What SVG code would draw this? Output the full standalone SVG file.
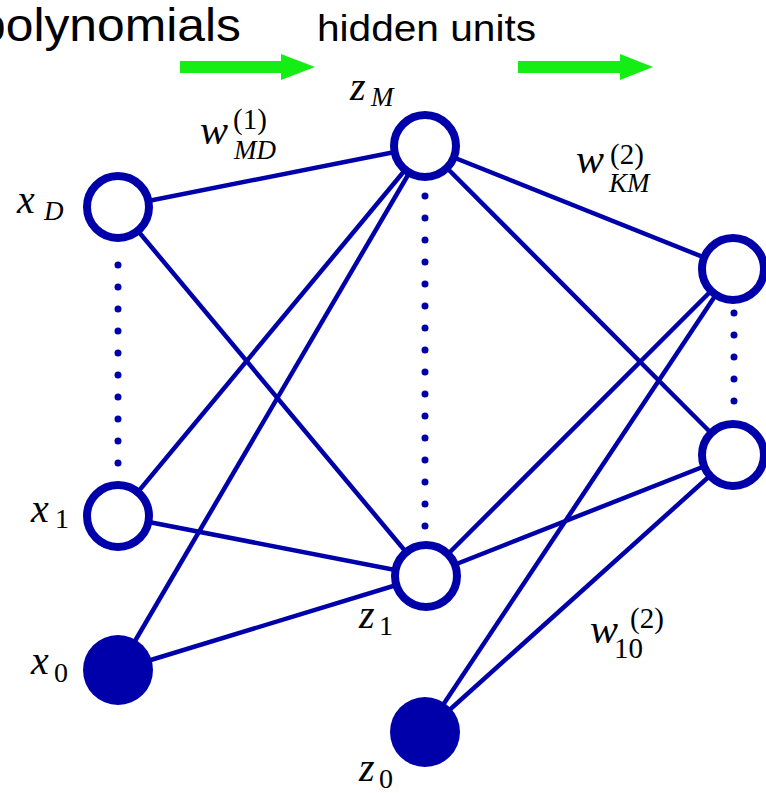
<svg xmlns="http://www.w3.org/2000/svg" width="766" height="793" viewBox="0 0 766 793">
<style>
.edge{stroke:#0000aa;stroke-width:4.5;fill:none}
.dots{stroke:#0000aa;stroke-width:7;stroke-linecap:round;stroke-dasharray:0 22;fill:none}
.open{fill:#fff;stroke:#0000aa;stroke-width:8}
.filled{fill:#0000aa;stroke:none}
.m{font-family:"Liberation Serif",serif;font-style:italic;fill:#000}
.r{font-family:"Liberation Serif",serif;fill:#000}
.t{font-family:"Liberation Sans",sans-serif;fill:#000}
.arrow{fill:#14ee14}
</style>
<rect width="766" height="793" fill="#fff"/>
<g id="titles">
<text class="t" x="-22" y="41" font-size="46" textLength="263" lengthAdjust="spacingAndGlyphs">polynomials</text>
<text class="t" x="317" y="41" font-size="36" textLength="219" lengthAdjust="spacingAndGlyphs">hidden units</text>
</g>
<g id="arrows">
<path class="arrow" d="M180 61 H281 V54 L315 67 L281 80 V73 H180 Z"/>
<path class="arrow" d="M518 61 H620 V54 L653 67 L620 80 V73 H518 Z"/>
</g>
<g id="connectors">
<line class="edge" x1="118" y1="207" x2="425" y2="146"/>
<line class="edge" x1="118" y1="207" x2="426" y2="576"/>
<line class="edge" x1="118" y1="516" x2="425" y2="146"/>
<line class="edge" x1="118" y1="516" x2="426" y2="576"/>
<line class="edge" x1="118" y1="670" x2="425" y2="146"/>
<line class="edge" x1="118" y1="670" x2="426" y2="576"/>
<line class="edge" x1="425" y1="146" x2="733" y2="269"/>
<line class="edge" x1="425" y1="146" x2="733" y2="455"/>
<line class="edge" x1="426" y1="576" x2="733" y2="269"/>
<line class="edge" x1="426" y1="576" x2="733" y2="455"/>
<line class="edge" x1="425" y1="732" x2="733" y2="269"/>
<line class="edge" x1="425" y1="732" x2="733" y2="455"/>
<line class="dots" x1="118" y1="265" x2="118" y2="466"/>
<line class="dots" x1="425" y1="196" x2="425" y2="529"/>
<line class="dots" x1="734" y1="313" x2="734" y2="403"/>
</g>
<g id="xD"><circle class="open" cx="118" cy="207" r="31"/>
<text class="m" x="17" y="213" font-size="40">x</text><text class="m" x="44" y="220" font-size="27">D</text></g>
<g id="x1"><circle class="open" cx="118" cy="516" r="31"/>
<text class="m" x="31" y="522" font-size="40">x</text><text class="r" x="55" y="528" font-size="28">1</text></g>
<g id="x0"><circle class="filled" cx="118" cy="670" r="35"/>
<text class="m" x="31" y="674" font-size="40">x</text><text class="r" x="54" y="682" font-size="28">0</text></g>
<g id="zM"><circle class="open" cx="425" cy="146" r="31"/>
<text class="m" x="350" y="100" font-size="40">z</text><text class="m" x="371" y="106" font-size="27">M</text></g>
<g id="z1"><circle class="open" cx="426" cy="576" r="31"/>
<text class="m" x="359" y="628" font-size="40">z</text><text class="r" x="379" y="635" font-size="28">1</text></g>
<g id="z0"><circle class="filled" cx="425" cy="732" r="35"/>
<text class="m" x="359" y="781" font-size="40">z</text><text class="r" x="379" y="788" font-size="28">0</text></g>
<g id="yK"><circle class="open" cx="733" cy="269" r="31"/></g>
<g id="y1"><circle class="open" cx="733" cy="455" r="31"/></g>
<g id="labels">
<text class="m" x="200" y="144" font-size="42">w</text><text class="r" x="233" y="129" font-size="29">(1)</text><text class="m" x="234" y="159" font-size="27">MD</text>
<text class="m" x="576" y="173" font-size="42">w</text><text class="r" x="610" y="164" font-size="29">(2)</text><text class="m" x="609" y="192" font-size="27">KM</text>
<text class="m" x="590" y="643" font-size="42">w</text><text class="r" x="630" y="628" font-size="29">(2)</text><text class="r" x="614" y="658" font-size="29">10</text>
</g>
</svg>
